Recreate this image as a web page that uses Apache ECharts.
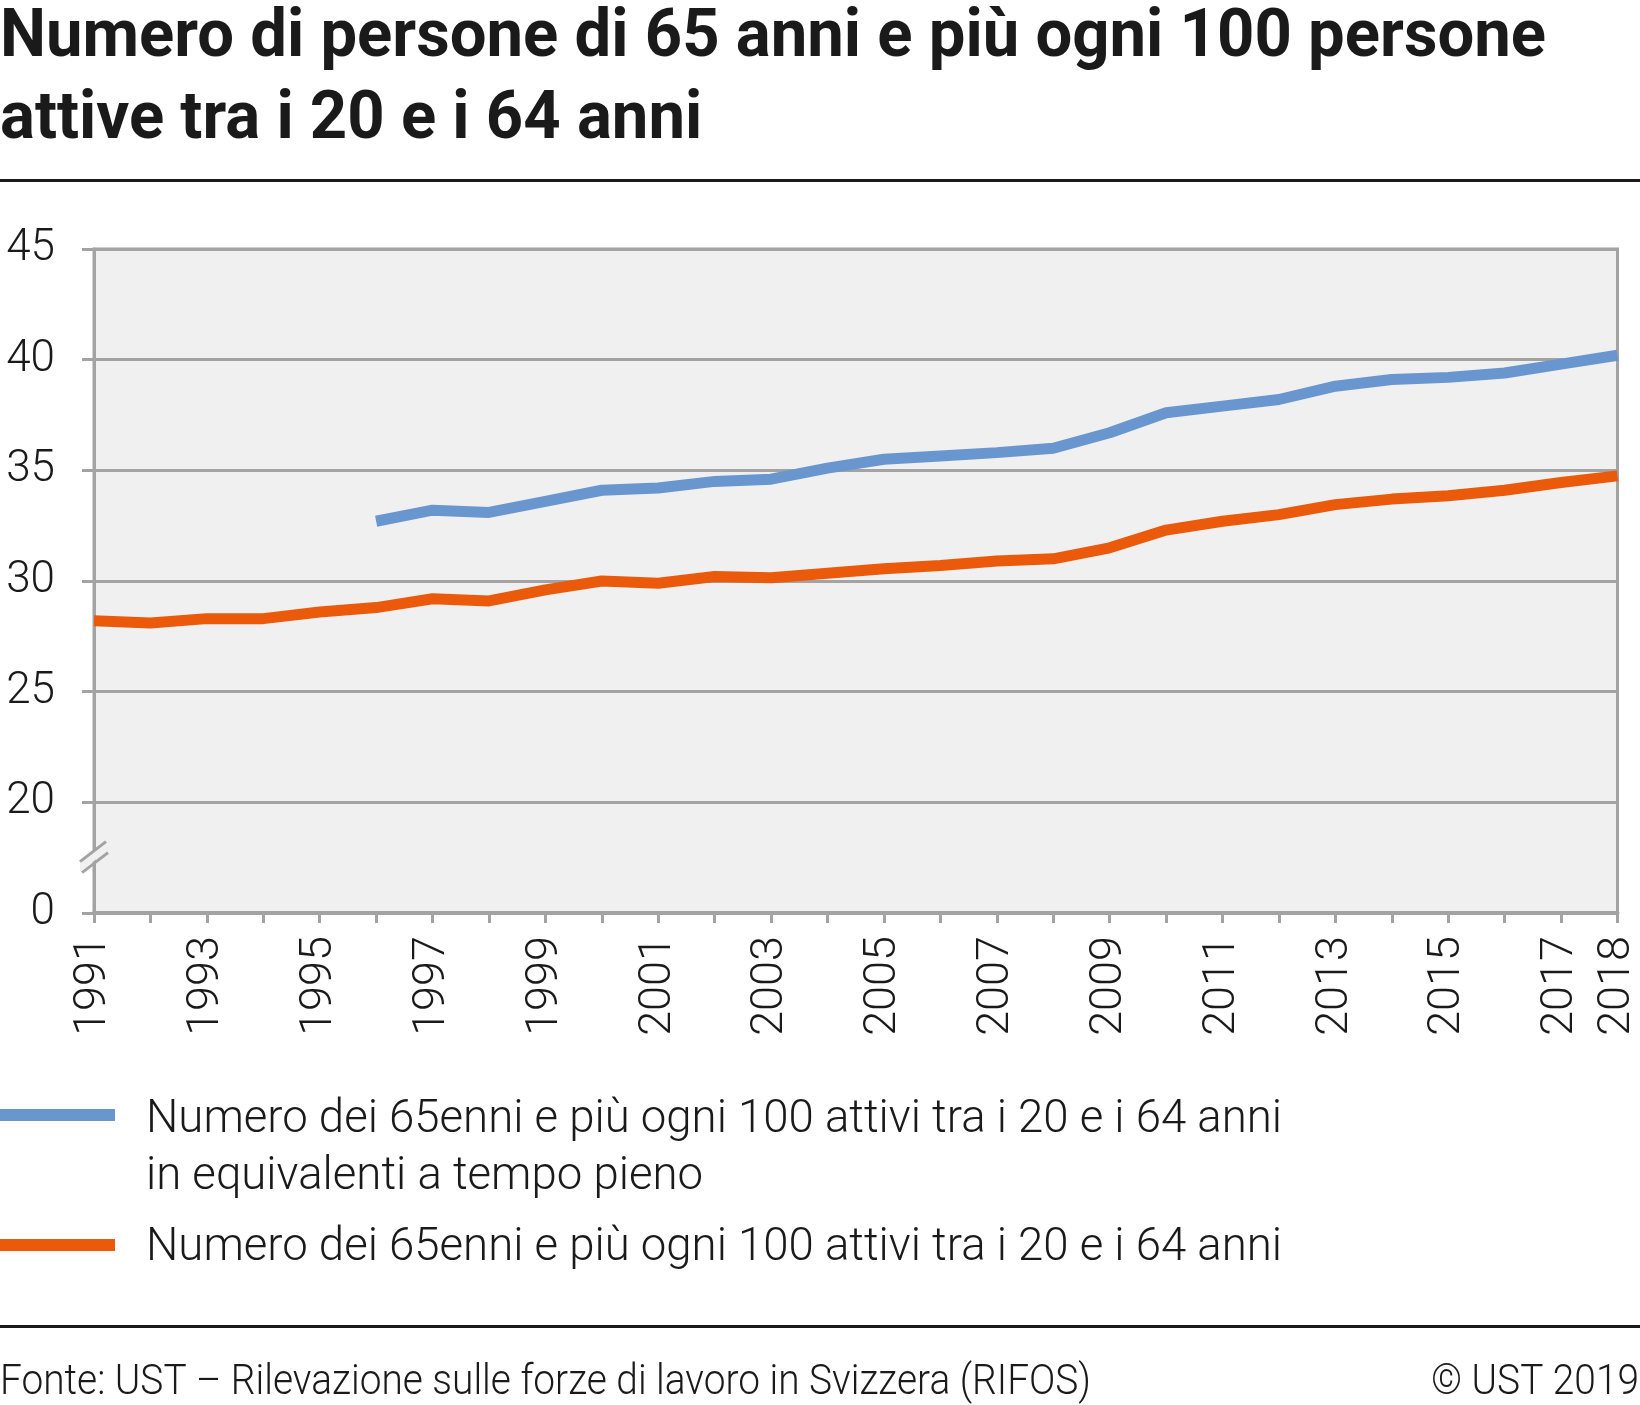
<!DOCTYPE html>
<html><head><meta charset="utf-8">
<script src="https://cdn.jsdelivr.net/npm/echarts@6/dist/echarts.min.js"></script>
<style>html,body{margin:0;padding:0;background:#fff}#c{width:1640px;height:1405px}</style>
</head><body><div id="c"></div>
<script>
// ---------- data ----------
const years = ['1991','1992','1993','1994','1995','1996','1997','1998','1999','2000',
  '2001','2002','2003','2004','2005','2006','2007','2008','2009','2010',
  '2011','2012','2013','2014','2015','2016','2017','2018'];
const fteValues = [null, null, null, null, null,
  32.7, 33.2, 33.1, 33.6, 34.1, 34.2, 34.5, 34.6, 35.1, 35.5, 35.65, 35.8, 36.0,
  36.7, 37.6, 37.9, 38.2, 38.8, 39.1, 39.2, 39.4, 39.8, 40.2];
const totalValues = [28.2, 28.1, 28.3, 28.3, 28.6, 28.8, 29.2, 29.1, 29.6, 30.0,
  29.9, 30.2, 30.15, 30.35, 30.55, 30.7, 30.9, 31.0, 31.5, 32.3,
  32.7, 33.0, 33.45, 33.7, 33.85, 34.1, 34.45, 34.75];
const yTickLabels = ['0', '20', '25', '30', '35', '40', '45'];
const titleLines = ['Numero di persone di 65 anni e più ogni 100 persone', 'attive tra i 20 e i 64 anni'];
const seriesNames = ['Numero dei 65enni e più ogni 100 attivi tra i 20 e i 64 anni in equivalenti a tempo pieno',
  'Numero dei 65enni e più ogni 100 attivi tra i 20 e i 64 anni'];
const legendLines = [['Numero dei 65enni e più ogni 100 attivi tra i 20 e i 64 anni', 'in equivalenti a tempo pieno'],
  ['Numero dei 65enni e più ogni 100 attivi tra i 20 e i 64 anni']];
const sourceText = 'Fonte: UST – Rilevazione sulle forze di lavoro in Svizzera (RIFOS)';
const copyrightText = '© UST 2019';

// axis break: values from 20 upward are shifted down by 15 (0 .. [break] .. 20..45)
const BREAK_SHIFT = 15;
const toAxis = v => (v == null ? null : v - BREAK_SHIFT);

const BLUE = '#6a96cf', ORANGE = '#ea5a0a', GREY = '#a3a3a3', TXT = '#1a1a1a';

const chart = echarts.init(document.getElementById('c'), null, {renderer: 'canvas'});
chart.setOption({
  backgroundColor: '#ffffff',
  animation: false,
  grid: {left: 94, right: 17, top: 249, bottom: 492, show: true,
         backgroundColor: '#f0f0f0', borderColor: GREY, borderWidth: 3},
  xAxis: {
    type: 'category', data: years, boundaryGap: false,
    axisLine: {lineStyle: {color: GREY, width: 4}},
    axisTick: {show: true, interval: 0, length: 10, lineStyle: {color: GREY, width: 3}},
    axisLabel: {
      rotate: 90, margin: 23, color: TXT, fontSize: 45, fontFamily: 'Roboto', fontWeight: 300,
      interval: (i, v) => (i % 2 === 0) || i === years.length - 1
    },
    splitLine: {show: false}
  },
  yAxis: {
    type: 'value', min: 0, max: 30, interval: 5,
    axisLine: {show: true, lineStyle: {color: GREY, width: 3}},
    axisTick: {show: true, length: 12, lineStyle: {color: GREY, width: 3}},
    axisLabel: {margin: 39, color: TXT, fontSize: 44, fontFamily: 'Roboto', fontWeight: 300,
      formatter: v => yTickLabels[Math.round(v / 5)]},
    splitLine: {show: true, lineStyle: {color: GREY, width: 3}}
  },
  series: [
    {name: seriesNames[0], type: 'line', data: fteValues.map(toAxis), symbol: 'none',
     connectNulls: false, lineStyle: {color: BLUE, width: 11}, itemStyle: {color: BLUE}, z: 3},
    {name: seriesNames[1], type: 'line', data: totalValues.map(toAxis), symbol: 'none',
     lineStyle: {color: ORANGE, width: 11}, itemStyle: {color: ORANGE}, z: 3}
  ]
});

// ---------- text helpers (condensed look via horizontal scale) ----------
const ctx = document.createElement('canvas').getContext('2d');
function measure(text, weight, size) { ctx.font = weight + ' ' + size + 'px Roboto'; return ctx.measureText(text).width; }
const titleSize = 66, legendSize = 46, footSize = 43;
const sTitle = 1546 / measure(titleLines[0], 'bold', titleSize);
const sLegend = 1136 / measure(legendLines[0][0], '300', legendSize);
const sFoot = 1091 / measure(sourceText, '300', footSize);

function txt(text, x, y, size, weight, scale, align) {
  return {type: 'text', x: x, y: y, scaleX: scale, z: 10,
    style: {text: text, fontSize: size, fontFamily: 'Roboto', fontWeight: weight, fill: TXT,
            align: align || 'left', verticalAlign: 'middle'}};
}

// axis break marker position from the axis scale
const p = chart.convertToPixel({gridIndex: 0}, [years[0], 2.5]);
const bx = p[0], by = p[1];

chart.setOption({
  graphic: [
    txt(titleLines[0], 0, 39, titleSize, 'bold', sTitle),
    txt(titleLines[1], 0, 121, titleSize, 'bold', sTitle),
    {type: 'rect', shape: {x: 0, y: 179, width: 1640, height: 3}, style: {fill: TXT}},
    // legend
    {type: 'rect', shape: {x: 0, y: 1109, width: 115, height: 12}, style: {fill: BLUE}},
    txt(legendLines[0][0], 146, 1120, legendSize, '300', sLegend),
    txt(legendLines[0][1], 146, 1177, legendSize, '300', sLegend),
    {type: 'rect', shape: {x: 0, y: 1239, width: 115, height: 12}, style: {fill: ORANGE}},
    txt(legendLines[1][0], 146, 1248, legendSize, '300', sLegend),
    // footer
    {type: 'rect', shape: {x: 0, y: 1325, width: 1640, height: 3}, style: {fill: TXT}},
    txt(sourceText, 0, 1383, footSize, '300', sFoot),
    txt(copyrightText, 1639, 1383, footSize, '300', sFoot, 'right'),
    // axis break
    {type: 'polygon', z: 20, shape: {points: [[bx - 14, by + 4], [bx + 12, by - 16], [bx + 12, by - 6], [bx - 14, by + 14]]},
     style: {fill: '#f0f0f0'}},
    {type: 'line', z: 21, shape: {x1: bx - 14, y1: by + 4, x2: bx + 12, y2: by - 16}, style: {stroke: GREY, lineWidth: 3}},
    {type: 'line', z: 21, shape: {x1: bx - 12, y1: by + 15, x2: bx + 14, y2: by - 5}, style: {stroke: GREY, lineWidth: 3}}
  ]
});
</script></body></html>
